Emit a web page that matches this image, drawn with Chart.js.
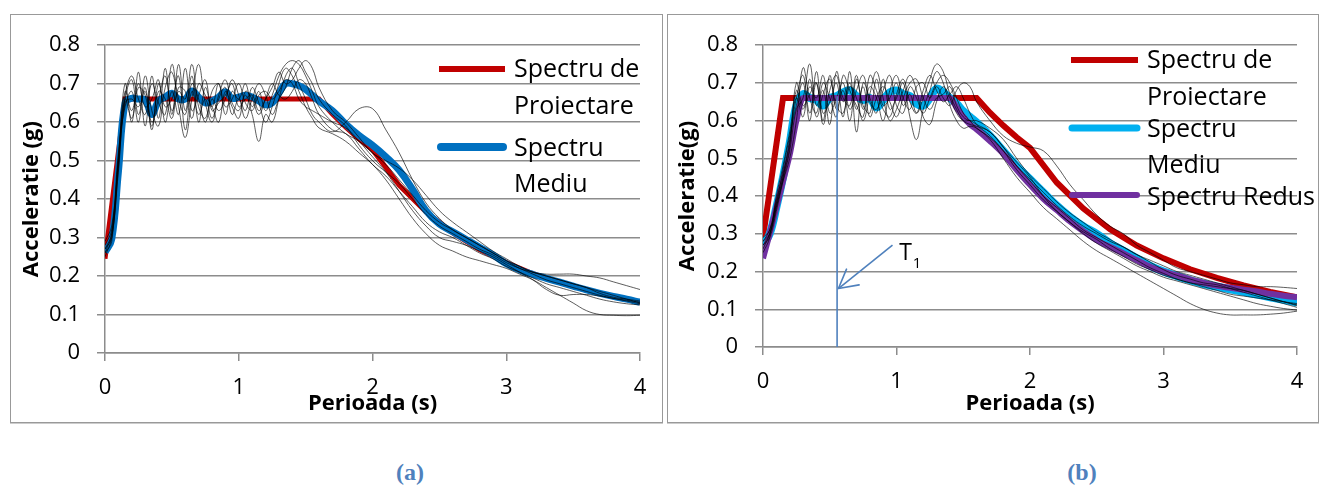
<!DOCTYPE html>
<html>
<head>
<meta charset="utf-8">
<script src="https://cdn.jsdelivr.net/npm/chart.js@4.4.1/dist/chart.umd.min.js"></script>
<style>
  html, body { margin: 0; padding: 0; background: #fff; }
  body { width: 1319px; height: 486px; position: relative; overflow: hidden; font-family: 'Open Sans', sans-serif; }
  .panel { position: absolute; top: 14px; height: 407px; border: 1px solid #999; box-shadow: 0 1px 0 #ccc; }
  #boxA { left: 10px; width: 651px; }
  #boxB { left: 667px; width: 650px; }
  .panel canvas { position: absolute; left: 0; top: 0; }
  .cap { position: absolute; top: 459px; width: 100px; text-align: center; line-height: 28px;
         font: bold 24px 'Liberation Serif', 'Times New Roman', serif; color: #4F81BD; }
</style>
</head>
<body>
<div class="panel" id="boxA"><canvas id="chartA" width="651" height="407"></canvas></div>
<div class="panel" id="boxB"><canvas id="chartB" width="650" height="407"></canvas></div>
<div class="cap" style="left:360px">(a)</div>
<div class="cap" style="left:1032px">(b)</div>

<script>
// Periods (s) shared by the record spectra and mean spectra
const periods = [0, 0.05, 0.1, 0.15, 0.2, 0.25, 0.3, 0.35, 0.4, 0.45, 0.5, 0.55, 0.6, 0.65, 0.7, 0.75,
  0.8, 0.85, 0.9, 0.95, 1.0, 1.05, 1.1, 1.15, 1.2, 1.25, 1.3, 1.35, 1.4, 1.45, 1.5, 1.55, 1.6,
  1.7, 1.8, 1.9, 2.0, 2.1, 2.2, 2.3, 2.4, 2.5, 2.6, 2.7, 2.8, 2.9, 3.0, 3.1, 3.2, 3.3, 3.4, 3.5,
  3.6, 3.7, 3.8, 3.9, 4.0];

// Design spectrum break points
const designT = [0, 0.15, 1.6, 1.7, 1.8, 1.9, 2.0, 2.2, 2.4, 2.6, 2.8, 3.0, 3.2, 3.4, 3.6, 3.8, 4.0];
const designA_a = [0.245, 0.66, 0.66, 0.621, 0.587, 0.556, 0.528, 0.436, 0.367, 0.312, 0.269, 0.235, 0.206, 0.183, 0.163, 0.146, 0.132];
const designA_b = [0.29, 0.66, 0.66, 0.621, 0.587, 0.556, 0.528, 0.436, 0.367, 0.312, 0.269, 0.235, 0.206, 0.183, 0.163, 0.146, 0.132];

// ---------------------------------------------------------------------------
// Panel (a) - record spectra
// ---------------------------------------------------------------------------
const recA1 = [0.28, 0.32, 0.50, 0.70, 0.60, 0.73, 0.59, 0.72, 0.61, 0.74, 0.62, 0.75, 0.63, 0.72, 0.60, 0.69,
  0.64, 0.70, 0.62, 0.68, 0.66, 0.70, 0.64, 0.68, 0.63, 0.67, 0.72, 0.75, 0.76, 0.75, 0.72, 0.68, 0.64,
  0.60, 0.57, 0.55, 0.52, 0.49, 0.45, 0.41, 0.37, 0.34, 0.32, 0.30, 0.28, 0.26, 0.24, 0.225, 0.21, 0.20,
  0.19, 0.18, 0.17, 0.16, 0.15, 0.14, 0.13];
const recA2 = [0.27, 0.30, 0.48, 0.66, 0.71, 0.62, 0.69, 0.58, 0.70, 0.64, 0.66, 0.72, 0.58, 0.68, 0.62, 0.66,
  0.61, 0.67, 0.71, 0.65, 0.63, 0.67, 0.62, 0.55, 0.62, 0.60, 0.66, 0.72, 0.74, 0.70, 0.66, 0.62, 0.60,
  0.575, 0.60, 0.635, 0.635, 0.58, 0.52, 0.45, 0.39, 0.35, 0.32, 0.30, 0.28, 0.26, 0.24, 0.22, 0.21, 0.20,
  0.19, 0.18, 0.17, 0.155, 0.145, 0.14, 0.135];
const recA3 = [0.26, 0.31, 0.52, 0.64, 0.68, 0.60, 0.72, 0.63, 0.59, 0.69, 0.73, 0.64, 0.56, 0.66, 0.75, 0.65,
  0.60, 0.66, 0.69, 0.62, 0.66, 0.63, 0.69, 0.65, 0.60, 0.64, 0.70, 0.74, 0.72, 0.68, 0.64, 0.61, 0.585,
  0.57, 0.55, 0.52, 0.49, 0.45, 0.40, 0.35, 0.31, 0.28, 0.265, 0.25, 0.24, 0.23, 0.22, 0.205, 0.19, 0.17,
  0.15, 0.13, 0.11, 0.10, 0.098, 0.097, 0.098];
const recA4 = [0.29, 0.33, 0.50, 0.68, 0.63, 0.70, 0.64, 0.66, 0.71, 0.60, 0.68, 0.62, 0.74, 0.63, 0.67, 0.71,
  0.63, 0.65, 0.67, 0.70, 0.64, 0.66, 0.67, 0.63, 0.66, 0.69, 0.73, 0.70, 0.71, 0.74, 0.76, 0.74, 0.69,
  0.63, 0.60, 0.56, 0.52, 0.50, 0.48, 0.45, 0.41, 0.37, 0.34, 0.315, 0.29, 0.265, 0.245, 0.225, 0.21, 0.205,
  0.205, 0.205, 0.20, 0.195, 0.185, 0.175, 0.165];
const recA5 = [0.25, 0.30, 0.47, 0.65, 0.66, 0.64, 0.68, 0.60, 0.66, 0.72, 0.63, 0.68, 0.66, 0.75, 0.64, 0.61,
  0.68, 0.70, 0.64, 0.66, 0.70, 0.65, 0.63, 0.67, 0.68, 0.66, 0.68, 0.71, 0.70, 0.66, 0.64, 0.63, 0.62,
  0.60, 0.585, 0.55, 0.51, 0.47, 0.42, 0.37, 0.33, 0.30, 0.29, 0.28, 0.265, 0.25, 0.23, 0.21, 0.19, 0.165,
  0.15, 0.152, 0.152, 0.148, 0.142, 0.137, 0.132];
const recA6 = [0.27, 0.31, 0.49, 0.67, 0.72, 0.66, 0.62, 0.70, 0.65, 0.62, 0.75, 0.66, 0.62, 0.70, 0.66, 0.60,
  0.66, 0.63, 0.66, 0.71, 0.67, 0.61, 0.66, 0.70, 0.67, 0.62, 0.66, 0.69, 0.74, 0.76, 0.73, 0.70, 0.66,
  0.62, 0.59, 0.54, 0.50, 0.47, 0.44, 0.40, 0.36, 0.33, 0.31, 0.29, 0.27, 0.255, 0.235, 0.22, 0.205, 0.19,
  0.18, 0.17, 0.16, 0.15, 0.142, 0.135, 0.128];
const recA7 = [0.26, 0.29, 0.51, 0.66, 0.61, 0.69, 0.67, 0.59, 0.68, 0.66, 0.61, 0.69, 0.68, 0.61, 0.70, 0.67,
  0.64, 0.60, 0.68, 0.64, 0.61, 0.68, 0.66, 0.62, 0.66, 0.70, 0.67, 0.66, 0.68, 0.71, 0.70, 0.66, 0.62,
  0.58, 0.57, 0.53, 0.49, 0.46, 0.42, 0.38, 0.34, 0.315, 0.30, 0.28, 0.26, 0.245, 0.225, 0.21, 0.195, 0.18,
  0.17, 0.16, 0.15, 0.14, 0.133, 0.128, 0.125];
const meanA = [0.262, 0.295, 0.47, 0.65, 0.662, 0.66, 0.658, 0.62, 0.655, 0.665, 0.675, 0.66, 0.66, 0.681, 0.665, 0.65,
  0.655, 0.665, 0.679, 0.662, 0.665, 0.67, 0.665, 0.655, 0.645, 0.65, 0.675, 0.70, 0.70, 0.695, 0.685, 0.67, 0.655,
  0.63, 0.595, 0.565, 0.54, 0.51, 0.475, 0.425, 0.37, 0.335, 0.315, 0.295, 0.275, 0.255, 0.232, 0.216, 0.204, 0.194,
  0.184, 0.174, 0.164, 0.155, 0.147, 0.14, 0.132];

// ---------------------------------------------------------------------------
// Panel (b) - record spectra
// ---------------------------------------------------------------------------
const recB1 = [0.28, 0.30, 0.37, 0.45, 0.55, 0.66, 0.72, 0.62, 0.70, 0.60, 0.72, 0.63, 0.68, 0.60, 0.71, 0.64,
  0.62, 0.71, 0.64, 0.66, 0.70, 0.64, 0.67, 0.62, 0.66, 0.71, 0.75, 0.73, 0.67, 0.63, 0.60, 0.59, 0.585,
  0.57, 0.53, 0.48, 0.44, 0.40, 0.37, 0.34, 0.31, 0.29, 0.27, 0.25, 0.23, 0.21, 0.195, 0.18, 0.17, 0.16,
  0.15, 0.14, 0.135, 0.13, 0.125, 0.12, 0.115];
const recB2 = [0.27, 0.29, 0.36, 0.44, 0.52, 0.63, 0.66, 0.75, 0.64, 0.68, 0.59, 0.73, 0.66, 0.64, 0.72, 0.63,
  0.69, 0.66, 0.60, 0.68, 0.72, 0.66, 0.63, 0.69, 0.70, 0.66, 0.69, 0.66, 0.64, 0.68, 0.70, 0.69, 0.65,
  0.60, 0.56, 0.54, 0.53, 0.52, 0.48, 0.43, 0.39, 0.35, 0.32, 0.30, 0.27, 0.25, 0.23, 0.21, 0.20, 0.19,
  0.18, 0.17, 0.165, 0.16, 0.16, 0.158, 0.155];
const recB3 = [0.26, 0.30, 0.38, 0.47, 0.56, 0.64, 0.70, 0.60, 0.73, 0.62, 0.65, 0.70, 0.61, 0.73, 0.57, 0.70,
  0.66, 0.62, 0.71, 0.63, 0.66, 0.70, 0.61, 0.55, 0.63, 0.68, 0.73, 0.70, 0.64, 0.60, 0.58, 0.585, 0.58,
  0.55, 0.50, 0.45, 0.41, 0.37, 0.34, 0.31, 0.28, 0.255, 0.235, 0.215, 0.195, 0.175, 0.155, 0.135, 0.115, 0.10,
  0.09, 0.085, 0.085, 0.085, 0.087, 0.09, 0.095];
const recB4 = [0.29, 0.31, 0.39, 0.46, 0.54, 0.68, 0.63, 0.69, 0.66, 0.72, 0.62, 0.66, 0.70, 0.63, 0.68, 0.72,
  0.65, 0.63, 0.68, 0.72, 0.64, 0.62, 0.69, 0.66, 0.62, 0.66, 0.70, 0.72, 0.70, 0.66, 0.62, 0.60, 0.58,
  0.555, 0.52, 0.48, 0.445, 0.41, 0.375, 0.345, 0.32, 0.30, 0.28, 0.265, 0.245, 0.225, 0.205, 0.19, 0.18, 0.17,
  0.165, 0.155, 0.145, 0.135, 0.125, 0.115, 0.105];
const recB5 = [0.27, 0.30, 0.37, 0.44, 0.50, 0.60, 0.74, 0.66, 0.62, 0.70, 0.66, 0.61, 0.72, 0.68, 0.64, 0.61,
  0.72, 0.68, 0.63, 0.61, 0.67, 0.71, 0.65, 0.62, 0.68, 0.72, 0.68, 0.65, 0.67, 0.69, 0.66, 0.62, 0.59,
  0.56, 0.52, 0.47, 0.43, 0.39, 0.36, 0.33, 0.305, 0.285, 0.26, 0.24, 0.22, 0.205, 0.19, 0.18, 0.17, 0.165,
  0.16, 0.155, 0.15, 0.14, 0.13, 0.12, 0.11];
const recB6 = [0.25, 0.29, 0.40, 0.48, 0.57, 0.66, 0.61, 0.71, 0.61, 0.67, 0.71, 0.64, 0.62, 0.69, 0.66, 0.60,
  0.67, 0.73, 0.66, 0.60, 0.63, 0.68, 0.72, 0.68, 0.61, 0.59, 0.65, 0.69, 0.66, 0.62, 0.60, 0.60, 0.59,
  0.57, 0.53, 0.49, 0.45, 0.40, 0.36, 0.33, 0.30, 0.275, 0.255, 0.235, 0.215, 0.20, 0.185, 0.175, 0.165, 0.155,
  0.145, 0.135, 0.125, 0.115, 0.108, 0.102, 0.098];
const recB7 = [0.28, 0.31, 0.38, 0.45, 0.53, 0.70, 0.64, 0.67, 0.70, 0.59, 0.68, 0.72, 0.65, 0.70, 0.63, 0.69,
  0.61, 0.66, 0.69, 0.65, 0.61, 0.66, 0.70, 0.71, 0.66, 0.63, 0.66, 0.67, 0.69, 0.64, 0.61, 0.60, 0.60,
  0.58, 0.55, 0.50, 0.455, 0.42, 0.385, 0.355, 0.33, 0.305, 0.285, 0.265, 0.245, 0.23, 0.215, 0.20, 0.19, 0.18,
  0.17, 0.16, 0.15, 0.14, 0.13, 0.12, 0.112];
const meanB = [0.27, 0.30, 0.37, 0.45, 0.54, 0.64, 0.67, 0.66, 0.655, 0.64, 0.66, 0.665, 0.675, 0.68, 0.665, 0.655,
  0.66, 0.635, 0.655, 0.675, 0.68, 0.67, 0.665, 0.645, 0.64, 0.66, 0.685, 0.675, 0.66, 0.645, 0.625, 0.61, 0.595,
  0.56, 0.52, 0.48, 0.445, 0.41, 0.375, 0.345, 0.32, 0.30, 0.275, 0.255, 0.235, 0.215, 0.20, 0.188, 0.177, 0.167,
  0.16, 0.153, 0.146, 0.139, 0.132, 0.125, 0.118];
const reducedB = [0.235, 0.30, 0.37, 0.44, 0.51, 0.60, 0.66, 0.66, 0.66, 0.66, 0.66, 0.66, 0.66, 0.66, 0.66, 0.66,
  0.66, 0.66, 0.66, 0.66, 0.66, 0.66, 0.66, 0.66, 0.66, 0.66, 0.66, 0.66, 0.66, 0.635, 0.61, 0.59, 0.577,
  0.546, 0.512, 0.47, 0.43, 0.393, 0.363, 0.333, 0.307, 0.283, 0.265, 0.248, 0.23, 0.213, 0.20, 0.19, 0.179, 0.17,
  0.162, 0.157, 0.152, 0.147, 0.141, 0.136, 0.132];

// T1 marker (panel b)
const t1Period = [0.555, 0.555];
const t1Accel = [0, 0.665];
const arrowT = [0.97, 0.565];
const arrowAcc = [0.27, 0.155];
const t1LabelPos = [1.02, 0.23];

const RED = '#C00000';
const BLUE = '#0070C0';
const CYAN = '#00B0F0';
const PURPLE = '#7030A0';
const GRID = '#8c8c8c';
const FONT = "'Open Sans', sans-serif";

const pts = (xs, ys) => ys.map((y, i) => ({ x: xs[i], y }));

function recordSets(list) {
  return list.map((v, i) => ({
    label: 'Accelerograma ' + (i + 1),
    data: pts(periods, v),
    borderColor: 'rgba(0,0,0,0.8)',
    borderWidth: 0.8,
    tension: 0.4,
  }));
}

// legend, arrowhead and T1 label
const overlay = {
  id: 'overlay',
  afterDatasetsDraw(chart, args, o) {
    const ctx = chart.ctx;
    ctx.save();
    for (const it of o.legend || []) {
      ctx.strokeStyle = it.color;
      ctx.lineWidth = it.width;
      ctx.lineCap = it.cap;
      ctx.beginPath();
      ctx.moveTo(it.x0, it.y);
      ctx.lineTo(it.x1, it.y);
      ctx.stroke();
      ctx.fillStyle = '#000';
      ctx.font = `25px ${FONT}`;
      ctx.textAlign = 'left';
      ctx.textBaseline = 'alphabetic';
      it.lines.forEach((t, k) => ctx.fillText(t, o.textX, it.base + k * 36.5));
    }
    if (o.t1) {
      const xs = chart.scales.x, ys = chart.scales.y;
      const tip = { x: xs.getPixelForValue(arrowT[1]), y: ys.getPixelForValue(arrowAcc[1]) };
      const from = { x: xs.getPixelForValue(arrowT[0]), y: ys.getPixelForValue(arrowAcc[0]) };
      const ang = Math.atan2(from.y - tip.y, from.x - tip.x);
      ctx.strokeStyle = '#4F81BD';
      ctx.lineWidth = 1.6;
      ctx.beginPath();
      for (const d of [-0.5, 0.5]) {
        ctx.moveTo(tip.x, tip.y);
        ctx.lineTo(tip.x + 21 * Math.cos(ang + d), tip.y + 21 * Math.sin(ang + d));
      }
      ctx.stroke();
      const lx = xs.getPixelForValue(t1LabelPos[0]);
      const ly = ys.getPixelForValue(t1LabelPos[1]);
      ctx.fillStyle = '#000';
      ctx.textAlign = 'left';
      ctx.textBaseline = 'alphabetic';
      ctx.font = `23px ${FONT}`;
      ctx.fillText('T', lx, ly);
      const w = ctx.measureText('T').width;
      ctx.font = `15px ${FONT}`;
      ctx.fillText('1', lx + w + 1, ly + 8);
    }
    ctx.restore();
  },
};

function makeScales(yTitle, dims) {
  return {
    x: {
      type: 'linear', min: 0, max: 4,
      ticks: { stepSize: 1, maxRotation: 0, color: '#000', padding: 14, font: { size: 22, family: FONT } },
      grid: { drawOnChartArea: false, drawTicks: true, tickLength: 8, color: GRID, lineWidth: 1.5 },
      border: { color: GRID, width: 1.5 },
      title: { display: true, text: 'Perioada (s)', color: '#000', padding: { top: 0, bottom: 5 },
               font: { size: 22, weight: 'bold', family: FONT } },
      afterFit: (s) => { s.height = dims.xh; },
    },
    y: {
      min: 0, max: 0.8,
      ticks: { stepSize: 0.1, color: '#000', padding: 17, font: { size: 22, family: FONT } },
      grid: { color: GRID, lineWidth: 1.5, tickLength: 8 },
      border: { color: GRID, width: 1.5 },
      title: { display: true, text: yTitle, color: '#000', padding: { top: dims.tp, bottom: 0 },
               font: { size: 22, weight: 'bold', family: FONT } },
      afterFit: (s) => { s.width = dims.yw; },
    },
  };
}

const common = {
  responsive: false,
  animation: false,
  devicePixelRatio: 1,
  elements: { point: { radius: 0 } },
  plugins: { legend: { display: false }, tooltip: { enabled: false } },
};

new Chart(document.getElementById('chartA'), {
  type: 'line',
  data: {
    datasets: [
      ...recordSets([recA1, recA2, recA3, recA4, recA5, recA6, recA7]),
      { label: 'Spectru Mediu', data: pts(periods, meanA), borderColor: BLUE, borderWidth: 7, tension: 0.4 },
      { label: 'Spectru de Proiectare', data: pts(designT, designA_a), borderColor: RED, borderWidth: 5, tension: 0 },
    ],
  },
  options: {
    ...common,
    layout: { padding: { top: 14, right: 22, left: 0, bottom: 0 } },
    scales: makeScales('Acceleratie (g)', { xh: 69, yw: 94, tp: 8 }),
    plugins: {
      ...common.plugins,
      overlay: {
        textX: 503,
        legend: [
          { color: RED, width: 6, cap: 'butt', x0: 428, x1: 494, y: 54, base: 62, lines: ['Spectru de', 'Proiectare'] },
          { color: BLUE, width: 8, cap: 'round', x0: 430, x1: 492, y: 132, base: 140.5, lines: ['Spectru', 'Mediu'] },
        ],
      },
    },
  },
  plugins: [overlay],
});

new Chart(document.getElementById('chartB'), {
  type: 'line',
  data: {
    datasets: [
      { label: 'T1', data: pts(t1Period, t1Accel), borderColor: '#4F81BD', borderWidth: 1.6, tension: 0 },
      { label: 'T1 arrow', data: pts(arrowT, arrowAcc), borderColor: '#4F81BD', borderWidth: 1.6, tension: 0 },
      ...recordSets([recB1, recB2, recB3, recB4, recB5, recB6, recB7]),
      { label: 'Spectru Redus', data: pts(periods, reducedB), borderColor: PURPLE, borderWidth: 6, cubicInterpolationMode: 'monotone' },
      { label: 'Spectru Mediu', data: pts(periods, meanB), borderColor: CYAN, borderWidth: 8, tension: 0.4 },
      { label: 'Spectru de Proiectare', data: pts(designT, designA_b), borderColor: RED, borderWidth: 6, tension: 0 },
    ],
  },
  options: {
    ...common,
    layout: { padding: { top: 18, right: 21, left: 0, bottom: 0 } },
    scales: makeScales('Acceleratie(g)', { xh: 75, yw: 95, tp: 7 }),
    plugins: {
      ...common.plugins,
      overlay: {
        textX: 479,
        t1: true,
        legend: [
          { color: RED, width: 6, cap: 'butt', x0: 403, x1: 470, y: 45, base: 53.3, lines: ['Spectru de', 'Proiectare'] },
          { color: CYAN, width: 7, cap: 'round', x0: 404, x1: 469, y: 113, base: 121.7, lines: ['Spectru', 'Mediu'] },
          { color: PURPLE, width: 6, cap: 'round', x0: 404, x1: 469, y: 180, base: 190, lines: ['Spectru Redus'] },
        ],
      },
    },
  },
  plugins: [overlay],
});
</script>
</body>
</html>
